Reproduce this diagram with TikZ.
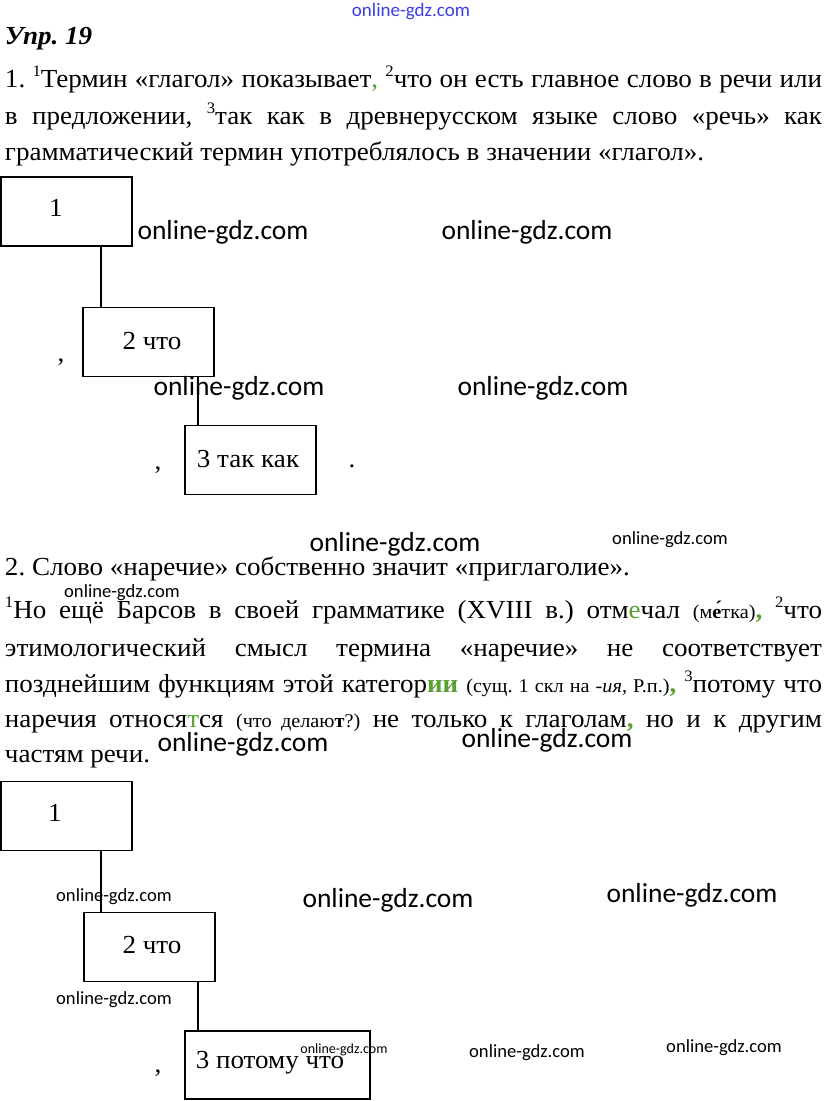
\documentclass[tikz,border=0pt]{standalone}
\usepackage{fontspec}
\setmainfont{Liberation Serif}
\newfontfamily\wmfont{Carlito}
\usetikzlibrary{calc}
\definecolor{grn}{RGB}{90,160,50}
\definecolor{wmblue}{RGB}{60,60,235}
\newcommand\xs{1.04}
\newcommand\sps[1]{\raisebox{0.42em}{\fontsize{16}{16}\selectfont #1}}
\newcommand\parsm[1]{{\fontsize{19.5}{22}\selectfont #1}}
\newcommand\bodytxt[1]{\scalebox{\xs}[1]{\fontsize{26}{30}\selectfont\frenchspacing #1}}
\newcommand\jbody[1]{\scalebox{\xs}[1]{\fontsize{26}{30}\selectfont\frenchspacing\makebox[785.6pt][s]{#1}}}
\tikzset{
  txt/.style={anchor=base west, inner sep=0pt, outer sep=0pt},
  lbl/.style={inner sep=0pt, outer sep=0pt},
  boxnode/.style={draw, line width=1.6pt, inner sep=0pt, minimum width=#1, minimum height=69pt},
  conn/.style={line width=1.5pt},
  wmbig/.style={inner sep=0pt, font=\wmfont\fontsize{27.5}{30}\selectfont},
  wmsmall/.style={inner sep=0pt, font=\wmfont\fontsize{18.6}{20}\selectfont},
  wmtiny/.style={inner sep=0pt, font=\wmfont\fontsize{14}{16}\selectfont},
}
\begin{document}
\begin{tikzpicture}[x=1pt, y=-1pt]
\useasboundingbox[fill=white] (0,0) rectangle (823,1101);
% top watermark
\node[inner sep=0pt, text=wmblue, font=\wmfont\fontsize{19}{20}\selectfont] (wtop) at (411,12) {online-gdz.com};
% heading
\node[txt] (head) at (5,44) {\bodytxt{\bfseries\itshape Упр. 19}};
% section 1 text
\node[txt] (s1a) at (5,87) {\jbody{1. \sps{1}Термин «глагол» показывает{\color{grn},} \sps{2}что он есть главное слово в речи или}};
\node[txt] (s1b) at (5,124) {\jbody{в предложении, \sps{3}так как в древнерусском языке слово «речь» как}};
\node[txt] (s1c) at (5,160) {\bodytxt{грамматический термин употреблялось в значении «глагол».}};
% section 1 scheme
\node[boxnode=131pt] (a1) at (66.5,211.5) {};
\node[boxnode=131pt] (a2) at (148.5,342) {};
\node[boxnode=131pt] (a3) at (250.5,460) {};
\node[lbl] (a1t) at (56,208) {\bodytxt{1}};
\node[lbl] (a2t) at (152,341) {\bodytxt{2 что}};
\node[lbl] (a3t) at (248,459) {\bodytxt{3 так как}};
\node[lbl] (a2c) at (61,362) {\bodytxt{,}};
\node[lbl] (a3c) at (158,470) {\bodytxt{,}};
\node[lbl] (a3p) at (352,466) {\bodytxt{.}};
\draw[conn] ([xshift=101pt]a1.south west) -- ([xshift=19pt]a2.north west);
\draw[conn] ([xshift=116pt]a2.south west) -- ([xshift=14pt]a3.north west);
% section 2 text
\node[txt] (s2h) at (5,575) {\bodytxt{2. Слово «наречие» собственно значит «приглаголие».}};
\node[txt] (s2a) at (5,618) {\jbody{\sps{1}Но ещё Барсов в своей грамматике (XVIII в.) отм{\color{grn}е}чал \parsm{(м\textbf{е́}тка)}{\color{grn}\textbf{,}} \sps{2}что}};
\node[txt] (s2b) at (5,656) {\jbody{этимологический смысл термина «наречие» не соответствует}};
\node[txt] (s2c) at (5,692) {\jbody{позднейшим функциям этой категор{\color{grn}\textbf{ии}} \parsm{(сущ. 1 скл на -\textit{ия}, Р.п.)}{\color{grn}\textbf{,}} \sps{3}потому что}};
\node[txt] (s2d) at (5,727) {\jbody{наречия относя{\color{grn}т}ся \parsm{(что делаю\textbf{т}?)} не только к глаголам{\color{grn}\textbf{,}} но и к другим}};
\node[txt] (s2e) at (5,762) {\bodytxt{частям речи.}};
% section 2 scheme
\node[boxnode=131pt] (b1) at (66.5,816) {};
\node[boxnode=131pt] (b2) at (149.5,947) {};
\node[boxnode=185pt, minimum height=68pt] (b3) at (277.5,1065) {};
\node[lbl] (b1t) at (55,813) {\bodytxt{1}};
\node[lbl] (b2t) at (152,945) {\bodytxt{2 что}};
\node[lbl] (b3t) at (270,1063) {\bodytxt{3 потому что}};
\node[lbl] (b3c) at (158,1073) {\bodytxt{,}};
\draw[conn] ([xshift=101pt]b1.south west) -- ([xshift=18pt]b2.north west);
\draw[conn] ([xshift=115pt]b2.south west) -- ([xshift=14pt]b3.north west);
% watermarks
\node[wmbig] (w1) at (223,232) {online-gdz.com};
\node[wmbig] (w2) at (527,232) {online-gdz.com};
\node[wmbig] (w3) at (239,388) {online-gdz.com};
\node[wmbig] (w4) at (543,388) {online-gdz.com};
\node[wmbig] (w5) at (395,544) {online-gdz.com};
\node[wmsmall] (w6) at (670,540) {online-gdz.com};
\node[wmsmall] (w7) at (122,593) {online-gdz.com};
\node[wmbig] (w8) at (243,744) {online-gdz.com};
\node[wmbig] (w9) at (547,740) {online-gdz.com};
\node[wmsmall] (w10) at (114,897) {online-gdz.com};
\node[wmbig] (w11) at (388,900) {online-gdz.com};
\node[wmbig] (w12) at (692,895) {online-gdz.com};
\node[wmsmall] (w13) at (114,1000) {online-gdz.com};
\node[wmtiny] (w14) at (344,1050) {online-gdz.com};
\node[wmsmall] (w15) at (527,1053) {online-gdz.com};
\node[wmsmall] (w16) at (724,1048) {online-gdz.com};
\end{tikzpicture}
\end{document}
